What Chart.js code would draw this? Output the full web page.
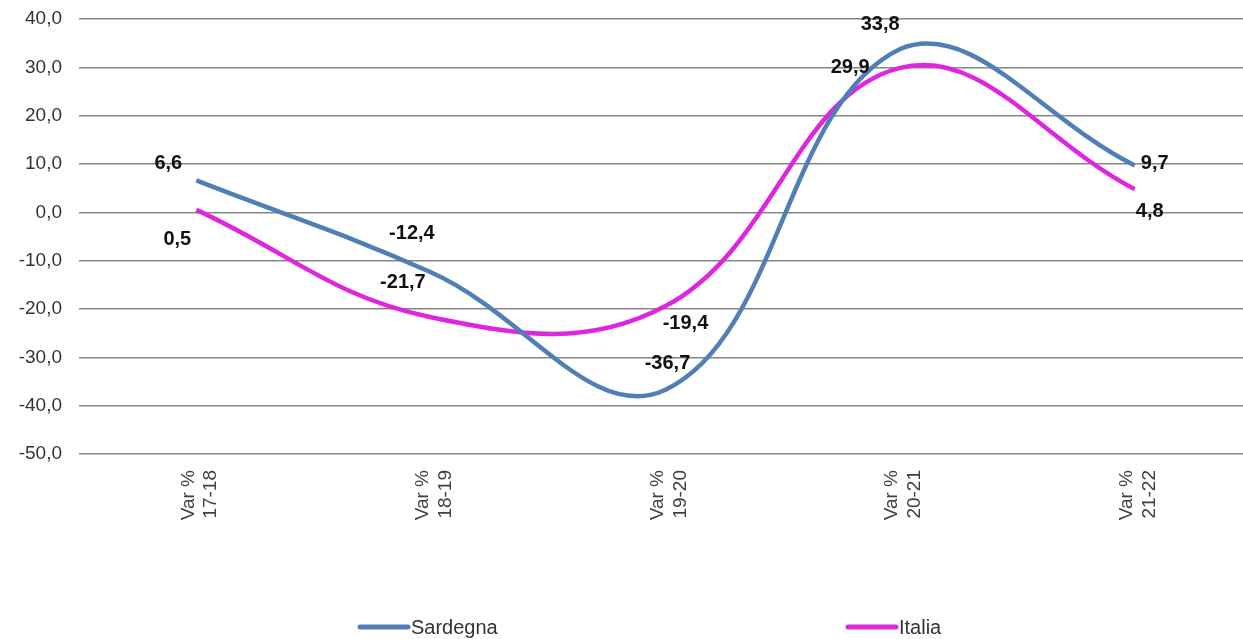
<!DOCTYPE html>
<html>
<head>
<meta charset="utf-8">
<script src="https://cdn.jsdelivr.net/npm/chart.js@4"></script>
<style>
  html, body { margin: 0; padding: 0; background: #fff; overflow: hidden; }
  /* plot area runs a little past the right edge of the window, as in the original */
  #wrap { width: 1252px; height: 639px; position: relative; }
</style>
</head>
<body>
<div id="wrap"><canvas id="chart"></canvas></div>
<script>
// categories and values
const categories = [['Var %', '17-18'], ['Var %', '18-19'], ['Var %', '19-20'], ['Var %', '20-21'], ['Var %', '21-22']];
const sardegna = [6.6, -12.4, -36.7, 33.8, 9.7];
const italia = [0.5, -21.7, -19.4, 29.9, 4.8];
const yTicks = [40, 30, 20, 10, 0, -10, -20, -30, -40, -50];

const FONT = "Arial, 'Liberation Sans', sans-serif";
const fmt = v => v.toFixed(1).replace('.', ',');

// where each value label sits relative to its point (px)
const labelOffsets = [
    [[-28, -17], [-19, -39], [2, -26], [-20, -24], [20, -2]],
    [[-19, 30], [-28, -35], [20, 17], [-50, 0], [15, 22]]
];

const valueLabels = {
    id: 'valueLabels',
    afterDatasetsDraw(chart) {
        const ctx = chart.ctx;
        ctx.save();
        ctx.font = 'bold 20px ' + FONT;
        ctx.fillStyle = '#111';
        ctx.textAlign = 'center';
        ctx.textBaseline = 'middle';
        chart.data.datasets.forEach((ds, di) => {
            chart.getDatasetMeta(di).data.forEach((pt, i) => {
                const off = labelOffsets[di][i];
                ctx.fillText(fmt(ds.data[i]), pt.x + off[0], pt.y + off[1]);
            });
        });
        ctx.restore();
    }
};

// legend drawn by hand so the two entries sit far apart like the original
const bottomLegend = {
    id: 'bottomLegend',
    afterDraw(chart) {
        const ctx = chart.ctx;
        const spots = [360, 848];
        const y = 627;
        ctx.save();
        ctx.font = '20px ' + FONT;
        ctx.textBaseline = 'middle';
        ctx.textAlign = 'left';
        chart.data.datasets.forEach((ds, i) => {
            const x = spots[i];
            ctx.strokeStyle = ds.borderColor;
            ctx.lineWidth = 5;
            ctx.lineCap = 'round';
            ctx.beginPath();
            ctx.moveTo(x, y);
            ctx.lineTo(x + 48, y);
            ctx.stroke();
            ctx.fillStyle = '#333';
            ctx.fillText(ds.label, x + 51, y + 1);
        });
        ctx.restore();
    }
};

const ctx = document.getElementById('chart').getContext('2d');
const myChart = new Chart(ctx, {
    type: 'line',
    data: {
        labels: categories,
        datasets: [{
            label: 'Sardegna',
            data: sardegna,
            borderColor: '#4f7fb5',
            borderWidth: 4.5,
            tension: 0.4,
            pointRadius: 0,
            fill: false
        }, {
            label: 'Italia',
            data: italia,
            borderColor: '#de26de',
            borderWidth: 4.5,
            tension: 0.4,
            pointRadius: 0,
            fill: false
        }]
    },
    options: {
        responsive: true,
        maintainAspectRatio: false,
        animation: false,
        layout: { padding: { top: 19, left: 0, right: 0, bottom: 55 } },
        scales: {
            x: {
                offset: true,
                grid: { display: false, drawTicks: false },
                border: { display: false },
                ticks: {
                    minRotation: 90,
                    maxRotation: 90,
                    padding: 16,
                    labelOffset: -8,
                    color: '#404040',
                    font: { family: FONT, size: 19 }
                },
                afterFit(s) { s.height = 130; }
            },
            y: {
                min: -50,
                max: 40,
                afterBuildTicks(s) { s.ticks = yTicks.map(v => ({ value: v })); },
                grid: { color: '#858585', lineWidth: 1.5, drawTicks: false },
                border: { display: false },
                ticks: {
                    padding: 17,
                    color: '#333',
                    font: { family: FONT, size: 19 },
                    callback: v => fmt(v)
                },
                afterFit(s) {
                    s.width = 79;
                    s.paddingTop = 0;
                    s.paddingBottom = 0;
                }
            }
        },
        plugins: {
            legend: { display: false },
            tooltip: { enabled: false }
        }
    },
    plugins: [valueLabels, bottomLegend]
});
</script>
</body>
</html>
